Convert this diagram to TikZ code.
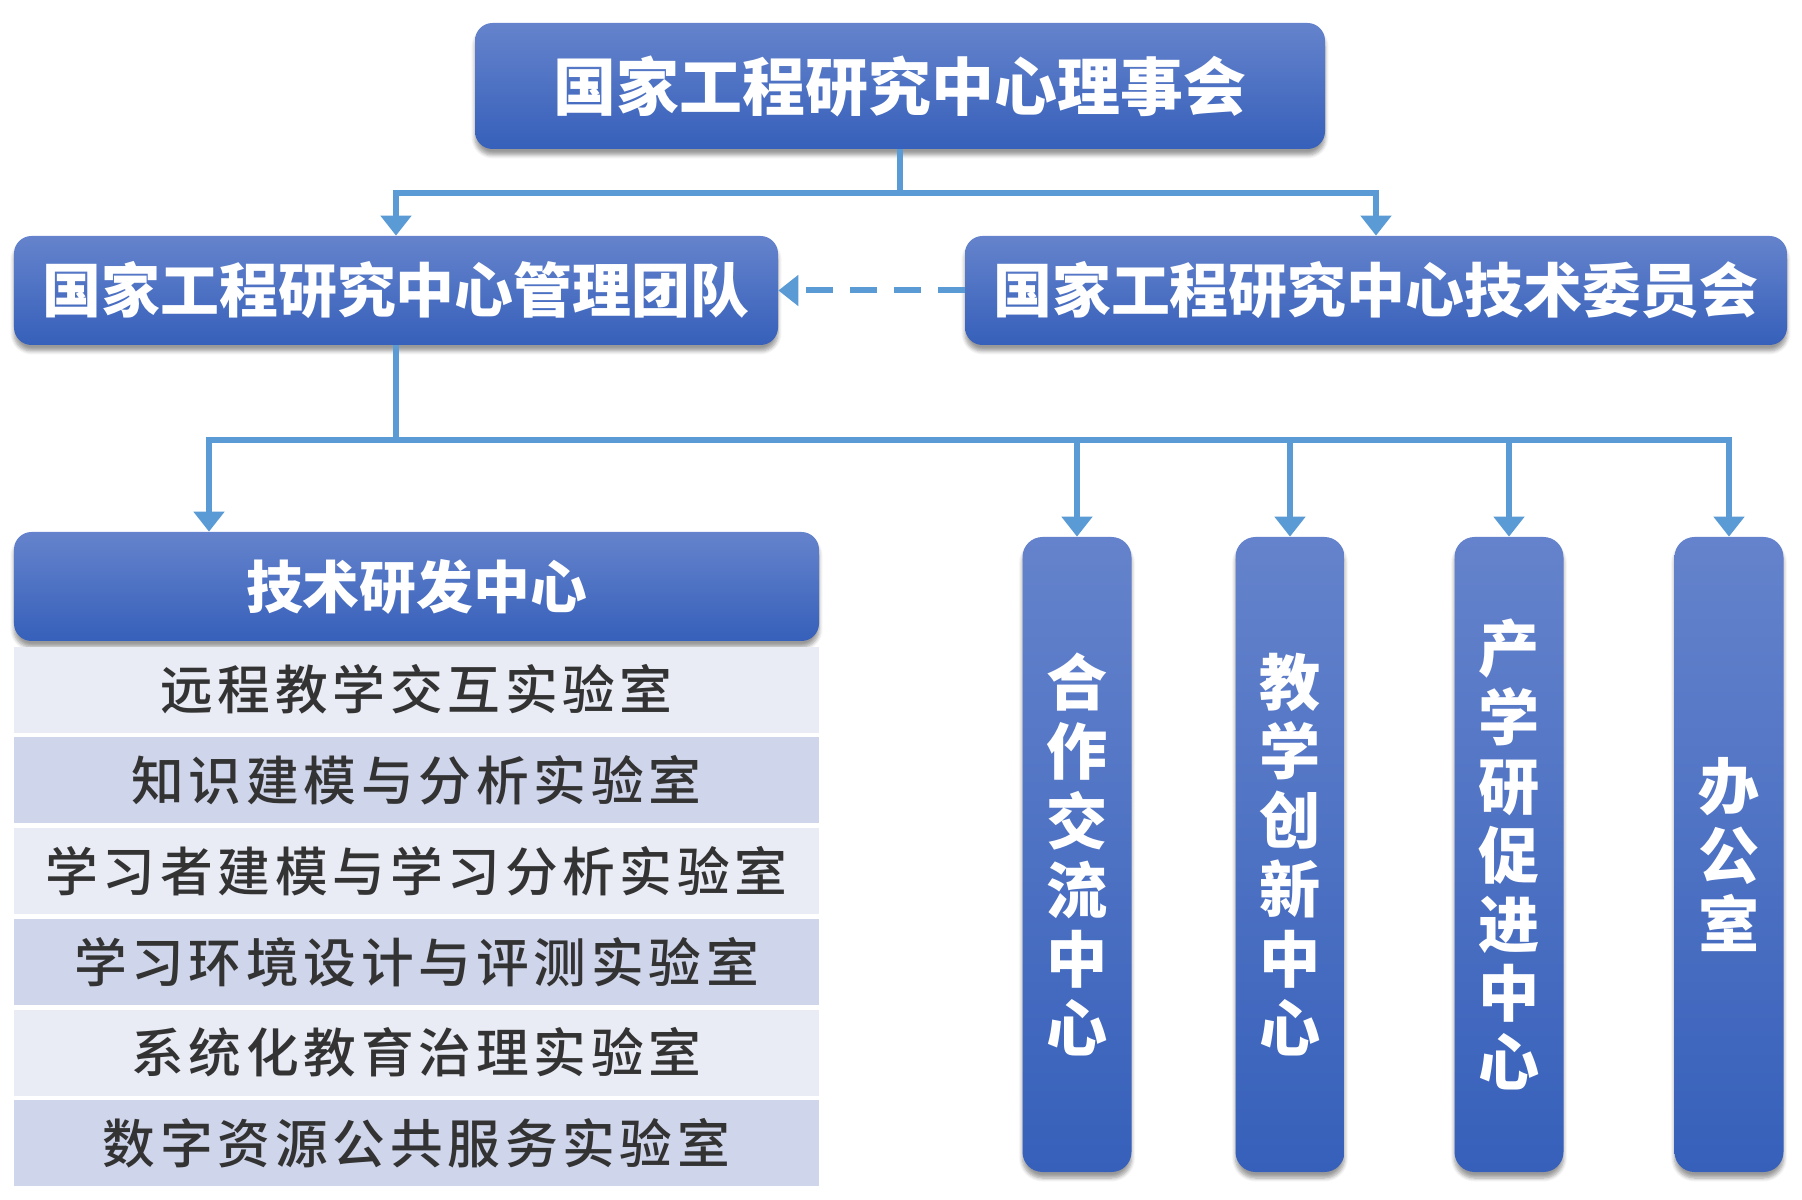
\documentclass[tikz,border=0pt]{standalone}
\usepackage{fontspec}
\setmainfont{Noto Sans CJK SC}
\newfontfamily\labfont[LetterSpace=9, UprightFont={* Medium}]{Noto Sans CJK SC}
\usetikzlibrary{
    positioning,
    arrows.meta,
    shadows.blur
}
\definecolor{LinkBlue}{RGB}{91,155,213}
\definecolor{BoxTop}{RGB}{101,131,204}
\definecolor{BoxBottom}{RGB}{54,96,186}
\definecolor{LabLight}{RGB}{233,235,245}
\definecolor{LabDark}{RGB}{207,213,234}
\definecolor{LabText}{RGB}{51,51,51}

\begin{document}
\begin{tikzpicture}[
    unit/.style={rectangle, rounded corners=0.35cm, top color=BoxTop, bottom color=BoxBottom, text=white, align=center, blur shadow={shadow xshift=0pt, shadow yshift=-0.12cm, shadow blur steps=6, shadow opacity=40}},
    column/.style={unit, minimum width=2.18cm, minimum height=12.7cm, rounded corners=0.4cm, font=\bfseries\fontsize{34.8}{39.3}\selectfont},
    lab/.style={rectangle, minimum width=16.1cm, minimum height=1.72cm, inner sep=0pt, text=LabText, font=\labfont\fontsize{30}{33}\selectfont},
    arrow/.style={line width=0.12cm, color=LinkBlue, -{Triangle[width=0.6cm, length=0.4cm]}}
]
\useasboundingbox (0,0) rectangle (36.04,-24);

\node[unit, minimum width=17cm, minimum height=2.52cm, font=\bfseries\fontsize{35.8}{40}\selectfont] (council) at (18.0,-1.72) {国家工程研究中心理事会};
\node[unit, minimum width=15.28cm, minimum height=2.18cm, font=\bfseries\fontsize{33.5}{38}\selectfont] (mgmt) at (7.92,-5.81) {国家工程研究中心管理团队};
\node[unit, minimum width=16.44cm, minimum height=2.18cm, font=\bfseries\fontsize{33.5}{38}\selectfont] (committee) at (27.52,-5.81) {国家工程研究中心技术委员会};
\node[unit, minimum width=16.1cm, minimum height=2.18cm, font=\bfseries\fontsize{32.3}{36}\selectfont] (rnd) at (8.33,-11.73) {技术研发中心};

\node[lab, fill=LabLight, below=0.1cm of rnd] (lab1) {远程教学交互实验室};
\node[lab, fill=LabDark, below=0.08cm of lab1] (lab2) {知识建模与分析实验室};
\node[lab, fill=LabLight, below=0.08cm of lab2] (lab3) {学习者建模与学习分析实验室};
\node[lab, fill=LabDark, below=0.08cm of lab3] (lab4) {学习环境设计与评测实验室};
\node[lab, fill=LabLight, below=0.08cm of lab4] (lab5) {系统化教育治理实验室};
\node[lab, fill=LabDark, below=0.08cm of lab5] (lab6) {数字资源公共服务实验室};

\node[column] (coop) at (21.54,-17.09) {合\\作\\交\\流\\中\\心};
\node[column] (teach) at (25.80,-17.09) {教\\学\\创\\新\\中\\心};
\node[column] (industry) at (30.18,-17.09) {产\\学\\研\\促\\进\\中\\心};
\node[column] (office) at (34.58,-17.09) {办\\公\\室};

\draw[arrow] (council.south) -- ++(0,-0.88) -| (mgmt.north);
\draw[arrow] (council.south) -- ++(0,-0.88) -| (committee.north);
\draw[arrow, dash pattern=on 0.54cm off 0.34cm] (committee.west) -- (mgmt.east);

\draw[arrow] (mgmt.south) -- ++(0,-1.9) -| ([xshift=-4.15cm]rnd.north);
\draw[arrow] (mgmt.south) -- ++(0,-1.9) -| (coop.north);
\draw[arrow] (mgmt.south) -- ++(0,-1.9) -| (teach.north);
\draw[arrow] (mgmt.south) -- ++(0,-1.9) -| (industry.north);
\draw[arrow] (mgmt.south) -- ++(0,-1.9) -| (office.north);
\end{tikzpicture}
\end{document}
